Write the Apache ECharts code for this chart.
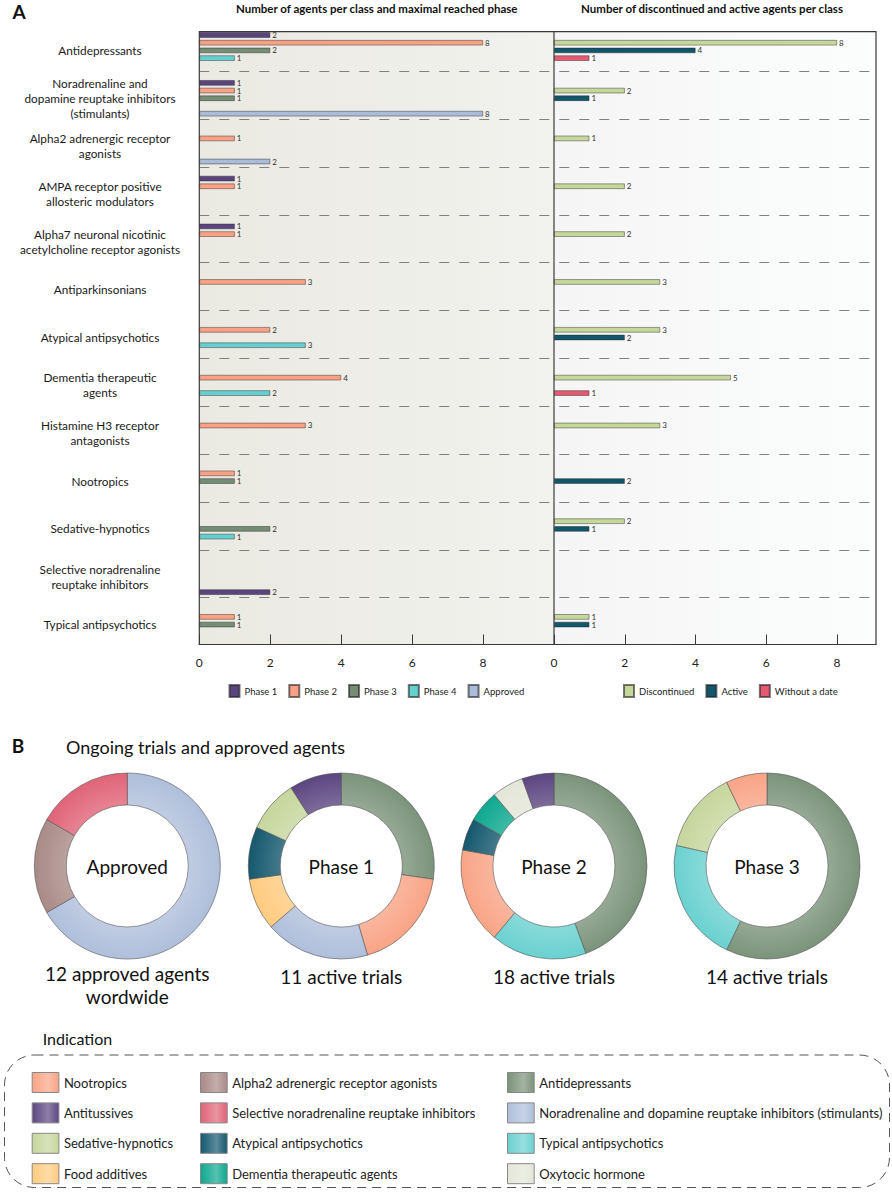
<!DOCTYPE html>
<html>
<head>
<meta charset="utf-8">
<script src="https://cdn.jsdelivr.net/npm/echarts@6/dist/echarts.min.js"></script>
<style>
html,body{margin:0;padding:0;background:#fff;}
#c{width:892px;height:1192px;}
</style>
</head>
<body>
<div id="c"></div>
<script>
// ---------------- DATA ----------------
const categories = [
  'Antidepressants',
  'Noradrenaline and\ndopamine reuptake inhibitors\n(stimulants)',
  'Alpha2 adrenergic receptor\nagonists',
  'AMPA receptor positive\nallosteric modulators',
  'Alpha7 neuronal nicotinic\nacetylcholine receptor agonists',
  'Antiparkinsonians',
  'Atypical antipsychotics',
  'Dementia therapeutic\nagents',
  'Histamine H3 receptor\nantagonists',
  'Nootropics',
  'Sedative-hypnotics',
  'Selective noradrenaline\nreuptake inhibitors',
  'Typical antipsychotics'
];
const phase1   = [2, 1, null, 1, 1, null, null, null, null, null, null, null, null];
const phase2   = [8, 1, 1, 1, 1, 3, 2, 4, 3, 1, null, null, 1];
const phase3   = [2, 1, null, null, null, null, null, null, null, 1, 2, null, 1];
const phase4   = [1, null, null, null, null, null, 3, 2, null, null, 1, null, null];
const approved = [null, 8, 2, null, null, null, null, null, null, null, null, 2, null];
// in the reference the approved bar of this class is drawn in the Phase 1 colour
const approvedDrawnPhase1 = [11];

const discontinued = [8, 2, 1, 2, 2, 3, 3, 5, 3, null, 2, null, 1];
const active       = [4, 1, null, null, null, null, 2, null, null, 2, 1, null, 1];
const withoutDate  = [1, null, null, null, null, null, null, 1, null, null, null, null, null];

const leftTicks = [0, 2, 4, 6, 8];
const rightTicks = [0, 2, 4, 6, 8];

const donutTitles = ['Approved', 'Phase 1', 'Phase 2', 'Phase 3'];
const donutCaptions = [['12 approved agents', 'wordwide'], ['11 active trials'], ['18 active trials'], ['14 active trials']];
const approvedNames = ['Noradrenaline and dopamine reuptake inhibitors (stimulants)', 'Alpha2 adrenergic receptor agonists', 'Selective noradrenaline reuptake inhibitors'];
const approvedVals  = [8, 2, 2];
const p1Names = ['Antidepressants', 'Nootropics', 'Noradrenaline and dopamine reuptake inhibitors (stimulants)', 'Food additives', 'Atypical antipsychotics', 'Sedative-hypnotics', 'Antitussives'];
const p1Vals  = [3, 2, 2, 1, 1, 1, 1];
const p2Names = ['Antidepressants', 'Typical antipsychotics', 'Nootropics', 'Atypical antipsychotics', 'Dementia therapeutic agents', 'Oxytocic hormone', 'Antitussives'];
const p2Vals  = [8, 3, 3, 1, 1, 1, 1];
const p3Names = ['Antidepressants', 'Typical antipsychotics', 'Sedative-hypnotics', 'Nootropics'];
const p3Vals  = [8, 3, 2, 1];

const legendCol1 = ['Nootropics', 'Antitussives', 'Sedative-hypnotics', 'Food additives'];
const legendCol2 = ['Alpha2 adrenergic receptor agonists', 'Selective noradrenaline reuptake inhibitors', 'Atypical antipsychotics', 'Dementia therapeutic agents'];
const legendCol3 = ['Antidepressants', 'Noradrenaline and dopamine reuptake inhibitors (stimulants)', 'Typical antipsychotics', 'Oxytocic hormone'];

// ---------------- STYLE ----------------
const C = {
  p1: '#5b4580', p2: '#f9a184', p3: '#758d75', p4: '#66d0d0', ap: '#aabcda',
  disc: '#c6d79b', act: '#12566c', wd: '#e45a71'
};
const indColor = {
  'Nootropics': '#f9a486',
  'Antitussives': '#5c4681',
  'Sedative-hypnotics': '#c6d69d',
  'Food additives': '#ffcb80',
  'Alpha2 adrenergic receptor agonists': '#a98a87',
  'Selective noradrenaline reuptake inhibitors': '#e06478',
  'Atypical antipsychotics': '#15586e',
  'Dementia therapeutic agents': '#0ea88f',
  'Antidepressants': '#7b937b',
  'Noradrenaline and dopamine reuptake inhibitors (stimulants)': '#afbfdb',
  'Typical antipsychotics': '#6ad1d0',
  'Oxytocic hormone': '#e3e6d7'
};
const FONT = 'Lato, "Open Sans", sans-serif';

function mix(hex, t) {
  const n = parseInt(hex.slice(1), 16);
  const r = (n >> 16) & 255, g = (n >> 8) & 255, b = n & 255;
  const f = v => Math.round(v + (255 - v) * t);
  return 'rgb(' + f(r) + ',' + f(g) + ',' + f(b) + ')';
}

const chart = echarts.init(document.getElementById('c'), null, {renderer: 'svg'});

// layout constants
const LX = 199.3, MX = 554, RX = 876, BTOP = 31.7, BBOT = 644.5;
const barTop = 26.5, barH = 622;
const pieCY = 866, pieCX = [127.3, 341.3, 554, 767], rIn = 61, rOut = 93;

function barSeries(name, data, color, idx) {
  return {
    type: 'bar', name, xAxisIndex: idx, yAxisIndex: idx, data,
    barWidth: 5.5, barGap: '40%',
    itemStyle: {color, borderColor: 'rgba(30,30,30,0.6)', borderWidth: 0.7},
    label: {show: true, position: 'right', distance: 2, fontSize: 8, color: '#333', fontFamily: FONT},
    emphasis: {disabled: true}, silent: true, z: 3
  };
}

const approvedData = approved.map((v, i) => approvedDrawnPhase1.indexOf(i) >= 0 && v != null
  ? {value: v, itemStyle: {color: C.p1}} : v);

function pieSeries(name, names, vals, cx) {
  return {
    type: 'pie', name, center: [cx, pieCY], radius: [rIn, rOut],
    startAngle: 90, clockwise: true, silent: true, animation: false,
    label: {show: false}, labelLine: {show: false},
    itemStyle: {borderColor: '#555', borderWidth: 0.6},
    data: names.map((n, i) => ({
      name: n, value: vals[i],
      itemStyle: {color: new echarts.graphic.RadialGradient(cx, pieCY, rOut, [
        {offset: 0, color: mix(indColor[n], 0.3)},
        {offset: 0.62, color: mix(indColor[n], 0.22)},
        {offset: 1, color: indColor[n]}
      ], true)}
    }))
  };
}

function pieLegend(names, left) {
  return {
    orient: 'vertical', left, top: 1067, itemWidth: 26.7, itemHeight: 20, itemGap: 9.4,
    icon: 'rect', selectedMode: false,
    textStyle: {fontSize: 13, color: '#222', fontFamily: FONT},
    data: names.map(n => ({
      name: n,
      itemStyle: {
        color: new echarts.graphic.LinearGradient(0, 0, 1, 0, [
          {offset: 0, color: indColor[n]},
          {offset: 0.6, color: mix(indColor[n], 0.3)},
          {offset: 1, color: indColor[n]}
        ]),
        borderColor: '#888', borderWidth: 1
      }
    }))
  };
}

function txt(text, x, y, size, weight, align) {
  return {
    type: 'text', x, y, silent: true, z: 10,
    style: {text, fill: '#111', font: (weight || 'normal') + ' ' + size + 'px ' + FONT,
      textAlign: align || 'center', textVerticalAlign: 'middle'}
  };
}

const graphics = [
  {type: 'rect', z: -10, silent: true, shape: {x: LX, y: BTOP, width: MX - LX, height: BBOT - BTOP},
    style: {fill: new echarts.graphic.LinearGradient(0, 0, 1, 0, [{offset: 0, color: '#eae9e2'}, {offset: 1, color: '#f2f2ee'}])}},
  {type: 'rect', z: -10, silent: true, shape: {x: MX, y: BTOP, width: RX - MX, height: BBOT - BTOP},
    style: {fill: new echarts.graphic.LinearGradient(0, 0, 1, 0, [{offset: 0, color: '#f4f5f4'}, {offset: 1, color: '#fcfdfd'}])}},
  {type: 'rect', z: 20, silent: true, shape: {x: LX, y: BTOP, width: RX - LX, height: BBOT - BTOP},
    style: {fill: 'none', stroke: '#3a3a3a', lineWidth: 1.2}},
  {type: 'line', z: 20, silent: true, shape: {x1: MX, y1: BTOP, x2: MX, y2: BBOT},
    style: {stroke: '#3a3a3a', lineWidth: 1.2}},
  {type: 'rect', z: 0, silent: true, shape: {x: 4.5, y: 1055, width: 885, height: 132.5, r: 30},
    style: {fill: 'none', stroke: '#555', lineWidth: 1, lineDash: [9, 6]}},
  txt('A', 19, 11, 19, 'bold'),
  txt('Number of agents per class and maximal reached phase', 376.7, 8, 11.5, 'bold'),
  txt('Number of discontinued and active agents per class', 712, 8, 11.5, 'bold'),
  txt('B', 18, 745, 19, 'bold'),
  txt('Ongoing trials and approved agents', 66, 747, 18, 'normal', 'left'),
  txt('Indication', 42.7, 1038, 16, 'normal', 'left')
];
donutTitles.forEach((t, i) => graphics.push(txt(t, pieCX[i], pieCY, 19)));
donutCaptions.forEach((lines, i) => {
  lines.forEach((l, j) => graphics.push(txt(l, pieCX[i], (lines.length > 1 ? 973 : 976.7) + j * 23.7, 19)));
});

const tickLabelFmt = ticks => v => (ticks.indexOf(v) >= 0 ? String(v) : '');

const option = {
  animation: false,
  textStyle: {fontFamily: FONT},
  grid: [
    {left: LX, top: barTop, width: MX - LX, height: barH},
    {left: MX, top: barTop, width: RX - MX, height: barH},
    {left: LX, top: 23.5, width: RX - LX, height: barH}
  ],
  xAxis: [
    {type: 'value', gridIndex: 0, min: 0, max: 10, interval: 2, offset: -4,
      axisLine: {show: true, lineStyle: {color: '#3a3a3a', width: 1.2}},
      axisTick: {show: true, inside: true, length: 10, lineStyle: {color: '#3a3a3a'}},
      axisLabel: {fontSize: 12, color: '#222', margin: 12, showMaxLabel: false, formatter: tickLabelFmt(leftTicks)},
      splitLine: {show: false}},
    {type: 'value', gridIndex: 1, min: 0, max: 9.1, interval: 2, offset: -4,
      axisLine: {show: true, lineStyle: {color: '#3a3a3a', width: 1.2}},
      axisTick: {show: true, inside: true, length: 10, lineStyle: {color: '#3a3a3a'}},
      axisLabel: {fontSize: 12, color: '#222', margin: 12, showMaxLabel: false, formatter: tickLabelFmt(rightTicks)},
      splitLine: {show: false}},
    {type: 'value', gridIndex: 2, show: false, min: 0, max: 1}
  ],
  yAxis: [
    {type: 'category', gridIndex: 0, data: categories, inverse: true,
      axisLine: {show: false}, axisTick: {show: false}, splitLine: {show: false},
      axisLabel: {interval: 0, align: 'center', margin: LX - 100, fontSize: 11.8, lineHeight: 15, color: '#1a1a1a'}},
    {type: 'category', gridIndex: 1, data: categories, inverse: true, show: false},
    {type: 'category', gridIndex: 2, data: categories, inverse: true,
      axisLine: {show: false}, axisTick: {show: false}, axisLabel: {show: false},
      splitLine: {show: true, interval: 0, showMinLine: false, showMaxLine: false,
        lineStyle: {color: '#808080', width: 1, type: [10, 10]}}}
  ],
  legend: [
    {left: 223.5, top: 679, itemWidth: 10, itemHeight: 12, itemGap: 11, icon: 'rect', selectedMode: false,
      textStyle: {fontSize: 9.5, color: '#222', fontFamily: FONT},
      data: ['Phase 1', 'Phase 2', 'Phase 3', 'Phase 4', 'Approved']},
    {left: 618, top: 679, itemWidth: 10, itemHeight: 12, itemGap: 11, icon: 'rect', selectedMode: false,
      textStyle: {fontSize: 9.5, color: '#222', fontFamily: FONT},
      data: ['Discontinued', 'Active', 'Without a date']},
    pieLegend(legendCol1, 26.7),
    pieLegend(legendCol2, 195),
    pieLegend(legendCol3, 502)
  ],
  graphic: graphics,
  series: [
    barSeries('Phase 1', phase1, C.p1, 0),
    barSeries('Phase 2', phase2, C.p2, 0),
    barSeries('Phase 3', phase3, C.p3, 0),
    barSeries('Phase 4', phase4, C.p4, 0),
    barSeries('Approved', approvedData, C.ap, 0),
    barSeries('Discontinued', discontinued, C.disc, 1),
    barSeries('Active', active, C.act, 1),
    barSeries('Without a date', withoutDate, C.wd, 1),
    pieSeries('pie-approved', approvedNames, approvedVals, pieCX[0]),
    pieSeries('pie-phase1', p1Names, p1Vals, pieCX[1]),
    pieSeries('pie-phase2', p2Names, p2Vals, pieCX[2]),
    pieSeries('pie-phase3', p3Names, p3Vals, pieCX[3])
  ]
};
chart.setOption(option);
</script>
</body>
</html>
